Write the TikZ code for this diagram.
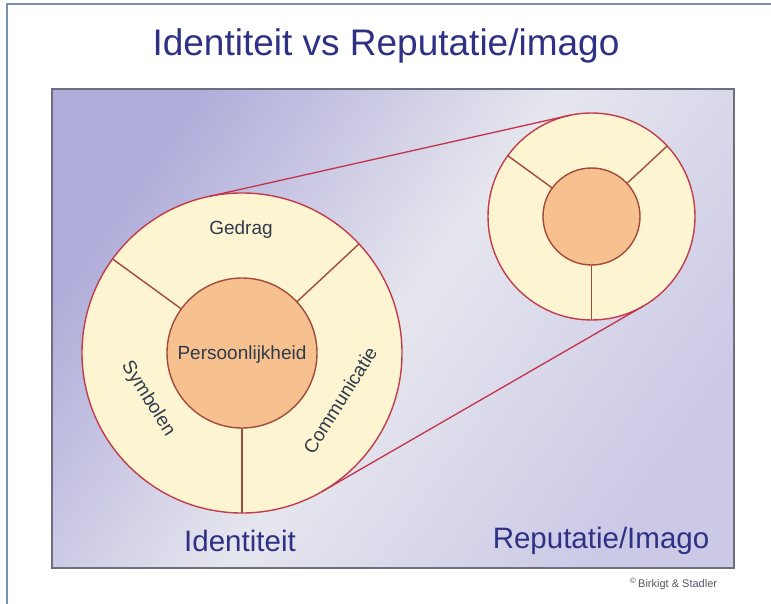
\documentclass[tikz,border=0pt]{standalone}
\usepackage{fontspec}
\setmainfont{Liberation Sans}
\usetikzlibrary{calc}
\definecolor{navy}{HTML}{2E3184}
\definecolor{ringfill}{HTML}{FDF4D2}
\definecolor{corefill}{HTML}{F6C18F}
\definecolor{ringline}{HTML}{C23C4C}
\definecolor{divline}{HTML}{A24A3C}
\definecolor{tanline}{HTML}{C4324A}
\definecolor{labtext}{HTML}{2F3B4C}
\definecolor{boxline}{HTML}{6E6E80}
\definecolor{framecol}{HTML}{7A93AC}
\definecolor{copycol}{HTML}{55556A}
\definecolor{bgA}{HTML}{AFACDA}
\definecolor{bgB}{HTML}{E6E6EE}
\definecolor{bgC}{HTML}{CBC9E6}
\pgfdeclarehorizontalshading{bgshade}{100bp}{color(0bp)=(bgA); color(25bp)=(bgA); color(50bp)=(bgB); color(75bp)=(bgC); color(100bp)=(bgC)}
\begin{document}
\begin{tikzpicture}[x=1pt,y=-1pt,
  ring/.style={circle, draw=ringline, fill=ringfill, line width=1.4pt, inner sep=0pt, outer sep=0pt},
  core/.style={circle, draw=divline, fill=corefill, line width=1.4pt, inner sep=0pt, outer sep=0pt},
  divider/.style={draw=divline, line width=1.4pt},
  tangentline/.style={draw=tanline, line width=1.3pt},
  seglabel/.style={text=labtext, font=\fontsize{19}{22}\selectfont, inner sep=0pt},
  biglabel/.style={text=navy, font=\fontsize{29.5}{34}\selectfont, inner sep=0pt},
]
\useasboundingbox (0,0) rectangle (771,604);
\fill[white] (0,0) rectangle (771,604);
\draw[framecol, line width=1.2pt] (7,604) -- (7,4) -- (771,4);
% background panel
\shade[shading=bgshade, shading angle=-35] (52,89) rectangle (734,568);
\draw[boxline, line width=2pt] (52,89) rectangle (734,568);
% title
\node[text=navy, font=\fontsize{37}{44}\selectfont, inner sep=0pt] (title) at (386,46) {Identiteit vs Reputatie/imago};
% circles
\node[ring, minimum size=320pt] (bigO) at (242,353) {};
\node[ring, minimum size=207pt] (smallO) at (591.5,216.5) {};
\draw[tangentline] (bigO.102.7) -- (smallO.102.7);
\draw[tangentline] (bigO.-60) -- (smallO.-60);
\node[core, minimum size=150pt] (bigI) at (242,353) {};
\node[core, minimum size=97pt] (smallI) at (591.5,216.5) {};
\foreach \a in {144,43,270}{
  \draw[divider] (bigI.\a) -- (bigO.\a);
  \draw[divider] (smallI.\a) -- (smallO.\a);
}
% labels
\node[seglabel] (gedrag) at (241,230) {Gedrag};
\node[seglabel] (pers) at (242,355) {Persoonlijkheid};
\node[seglabel, rotate=-58] (symb) at (148,399) {Symbolen};
\node[seglabel, rotate=58] (comm) at (340,400) {Communicatie};
\node[biglabel] (ident) at (240,541) {Identiteit};
\node[biglabel] (rep) at (601,541) {Reputatie/Imago};
\node[text=copycol, font=\fontsize{11}{13}\selectfont, anchor=west, inner sep=0pt] (copy) at (630,584) {\textsuperscript{\textcopyright}\,Birkigt \& Stadler};
\end{tikzpicture}
\end{document}
